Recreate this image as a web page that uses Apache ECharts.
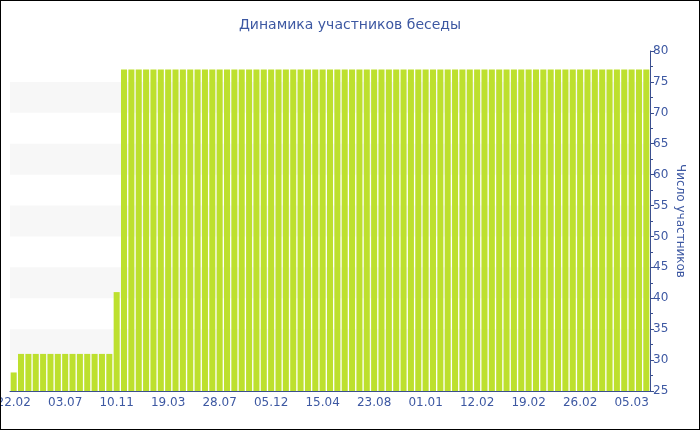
<!DOCTYPE html>
<html><head><meta charset="utf-8">
<script src="https://cdn.jsdelivr.net/npm/echarts@6/dist/echarts.min.js"></script>
<style>
html,body{margin:0;padding:0;background:#fff}
#wrap{position:relative;width:700px;height:430px}
#c{width:700px;height:430px}
#frame{position:absolute;left:0;top:0;width:700px;height:430px;box-sizing:border-box;border:1px solid #000;pointer-events:none}
</style>
</head><body>
<div id="wrap"><div id="c"></div><div id="frame"></div></div>
<script>
// Tick labels shown every 7th bar
const tickLabels = ['22.02','03.07','10.11','19.03','28.07','05.12','15.04','23.08','01.01','12.02','19.02','26.02','05.03'];
const tickStep = 7;
// Participants per bar (87 bars)
const values = [
  28,
  31,31,31,31,31,31,31,31,31,31,31,31,31,
  41,
  77,77,77,77,77,77,77,77,77,77,77,77,77,77,77,77,77,77,77,77,
  77,77,77,77,77,77,77,77,77,77,77,77,77,77,77,77,77,77,77,77,
  77,77,77,77,77,77,77,77,77,77,77,77,77,77,77,77,77,77,77,77,
  77,77,77,77,77,77,77,77,77,77,77,77
];
const titleText = 'Динамика участников беседы';
const yName = 'Число участников';

const categories = values.map((v, i) => (i % tickStep === 0 && tickLabels[i / tickStep]) ? tickLabels[i / tickStep] : 'c' + i);

const txt = '#3d58a2';
const axisCol = '#3b4f8e';
const chart = echarts.init(document.getElementById('c'), null, {renderer: 'canvas'});
chart.setOption({
  animation: false,
  backgroundColor: '#fff',
  title: {
    text: titleText, left: 'center', top: 13,
    textStyle: {color: txt, fontSize: 14, fontWeight: 'normal', fontFamily: 'DejaVu Sans'}
  },
  grid: {left: 10, right: 50, top: 51, bottom: 39, containLabel: false, outerBoundsMode: 'none'},
  xAxis: {
    type: 'category', data: categories, boundaryGap: true,
    axisLine: {lineStyle: {color: axisCol, width: 1}},
    axisTick: {alignWithLabel: true, interval: tickStep - 1, length: 4, lineStyle: {color: axisCol}},
    axisLabel: {interval: tickStep - 1, color: txt, fontSize: 12, fontFamily: 'DejaVu Sans', margin: 6},
    splitLine: {show: false}
  },
  yAxis: {
    type: 'value', position: 'right', min: 25, max: 80, interval: 5,
    name: yName, nameLocation: 'middle', nameRotate: -90, nameGap: 24, nameMoveOverlap: false,
    nameTextStyle: {color: txt, fontSize: 12, fontFamily: 'DejaVu Sans'},
    axisLine: {show: true, lineStyle: {color: axisCol, width: 1}},
    axisTick: {show: true, length: 4, lineStyle: {color: axisCol}},
    minorTick: {show: true, splitNumber: 2, length: 3, lineStyle: {color: axisCol}},
    axisLabel: {color: txt, fontSize: 12, fontFamily: 'DejaVu Sans', margin: 3},
    splitLine: {show: false},
    splitArea: {show: true, areaStyle: {color: ['rgba(255,255,255,0)', '#f7f7f7']}}
  },
  series: [{
    type: 'bar', data: values, barCategoryGap: '18%',
    itemStyle: {color: '#bde02e'}
  }]
});
</script>
</body></html>
